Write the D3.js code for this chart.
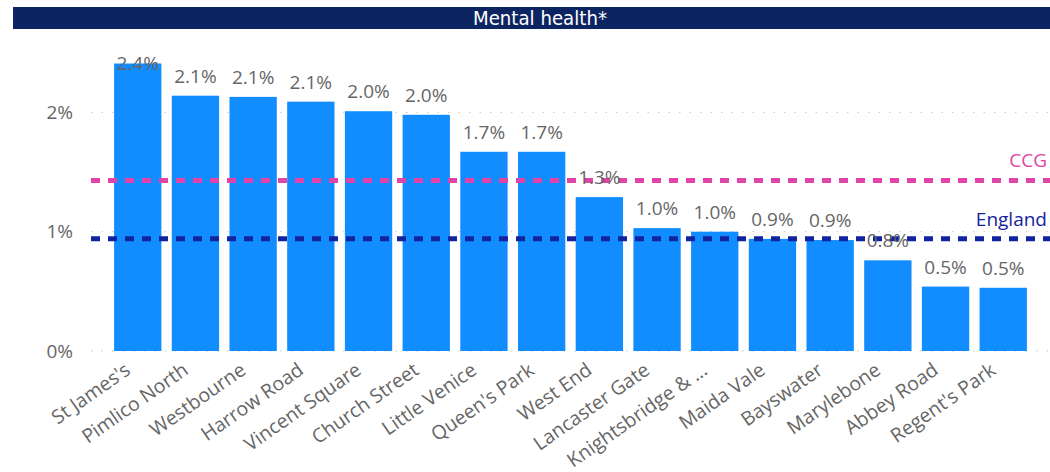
<!DOCTYPE html>
<html>
<head>
<meta charset="utf-8">
<script src="https://cdn.jsdelivr.net/npm/d3@7"></script>
<style>
  body { margin: 0; background: #fff; }
  svg { display: block; }
</style>
</head>
<body>
<div id="chart"></div>
<script>
// data
const wards = ["St James's", "Pimlico North", "Westbourne", "Harrow Road", "Vincent Square",
  "Church Street", "Little Venice", "Queen's Park", "West End", "Lancaster Gate",
  "Knightsbridge & ...", "Maida Vale", "Bayswater", "Marylebone", "Abbey Road", "Regent's Park"];
const values = [2.41, 2.14, 2.13, 2.09, 2.01, 1.98, 1.67, 1.67, 1.29, 1.03, 1.00, 0.94, 0.93, 0.76, 0.54, 0.53];
const ccgValue = 1.43;
const englandValue = 0.94;
const yTicks = [0, 1, 2];

const width = 1050, height = 472;
const plotLeft = 91, plotRight = 1050, plotTop = 52.75, plotBottom = 351;

const svg = d3.select("#chart").append("svg")
  .attr("width", width)
  .attr("height", height);

// title bar
svg.append("rect")
  .attr("x", 13).attr("y", 7)
  .attr("width", width - 13).attr("height", 22)
  .attr("fill", "#0D2462");
svg.append("text")
  .attr("x", 540).attr("y", 25)
  .attr("text-anchor", "middle")
  .attr("textLength", 134)
  .attr("lengthAdjust", "spacingAndGlyphs")
  .style("font-family", "'DejaVu Sans Condensed', 'DejaVu Sans'")
  .style("font-size", "19px")
  .style("font-weight", "500")
  .attr("fill", "#fff")
  .text("Mental health*");

const x = d3.scaleBand().domain(wards).range([plotLeft, plotRight])
  .paddingInner(0.18).paddingOuter(0.4);
const y = d3.scaleLinear().domain([0, 2.5]).range([plotBottom, plotTop]);

const font = "'Open Sans', 'Segoe UI', sans-serif";

// gridlines
svg.append("g").selectAll("line")
  .data(yTicks)
  .join("line")
  .attr("x1", plotLeft).attr("x2", plotRight)
  .attr("y1", d => y(d)).attr("y2", d => y(d))
  .attr("stroke", "#c8c8c8")
  .attr("stroke-width", 1)
  .attr("stroke-dasharray", "1.5 9");

// y labels
svg.append("g").selectAll("text")
  .data(yTicks)
  .join("text")
  .attr("x", 73).attr("y", d => y(d))
  .attr("dy", "0.35em")
  .attr("text-anchor", "end")
  .style("font-family", font).style("font-size", "19px")
  .attr("fill", "#666")
  .text(d => d + "%");

// bars
svg.append("g").selectAll("rect")
  .data(values)
  .join("rect")
  .attr("x", (d, i) => x(wards[i]))
  .attr("width", x.bandwidth())
  .attr("y", d => y(d))
  .attr("height", d => y(0) - y(d))
  .attr("fill", "#118DFF");

// reference lines
const refs = [
  { name: "CCG", value: ccgValue, color: "#E044A7" },
  { name: "England", value: englandValue, color: "#12239E" }
];
svg.append("g").selectAll("line")
  .data(refs)
  .join("line")
  .attr("x1", plotLeft).attr("x2", plotRight)
  .attr("y1", d => y(d.value)).attr("y2", d => y(d.value))
  .attr("stroke", d => d.color)
  .attr("stroke-width", 5)
  .attr("stroke-dasharray", "9 8");
svg.append("g").selectAll("text")
  .data(refs)
  .join("text")
  .attr("x", 1047)
  .attr("y", d => y(d.value) - 13)
  .attr("text-anchor", "end")
  .style("font-family", font).style("font-size", "19px")
  .attr("fill", d => d.color)
  .text(d => d.name);

// data labels
svg.append("g").selectAll("text")
  .data(values)
  .join("text")
  .attr("x", (d, i) => x(wards[i]) + x.bandwidth() / 2)
  .attr("y", d => Math.max(y(d) - 13, plotTop + 17))
  .attr("text-anchor", "middle")
  .style("font-family", font).style("font-size", "19px")
  .attr("fill", "#666")
  .text(d => d3.format(".1f")(d) + "%");

// x labels
svg.append("g").selectAll("text")
  .data(wards)
  .join("text")
  .attr("transform", d => `translate(${x(d) + x.bandwidth() / 2 - 6}, 373) rotate(-35)`)
  .attr("text-anchor", "end")
  .style("font-family", font).style("font-size", "19.5px")
  .attr("fill", "#666")
  .text(d => d);
</script>
</body>
</html>
